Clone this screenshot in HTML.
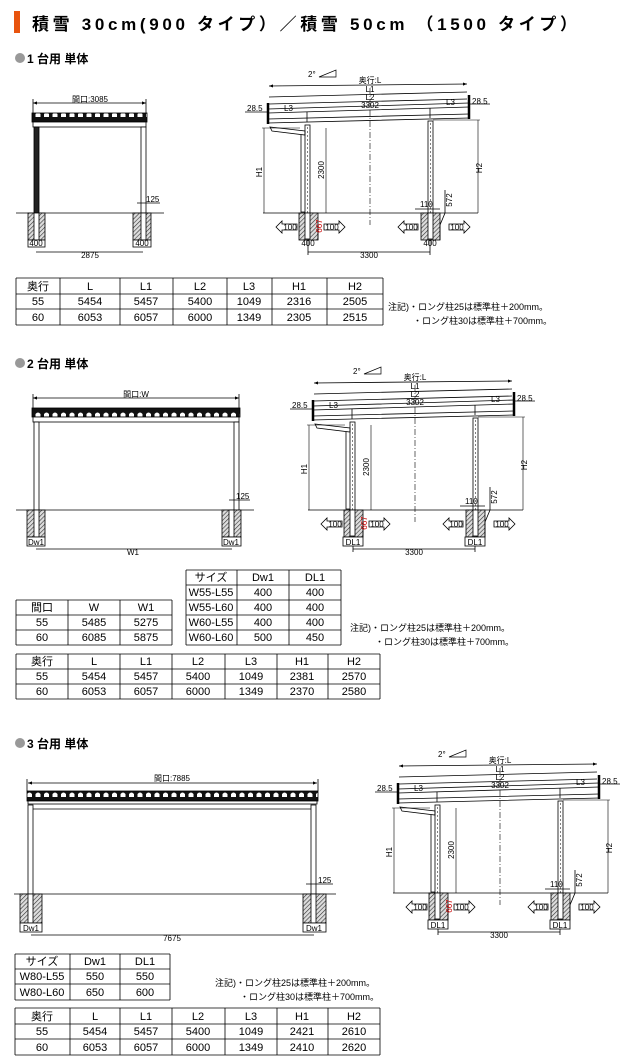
<!DOCTYPE html>
<html><head><meta charset="utf-8"><style>
html,body{margin:0;padding:0;background:#fff}
svg{display:block;font-family:"Liberation Sans","Noto Sans CJK JP",sans-serif}
.t{font-size:11px;text-anchor:middle}
.s{font-size:8px}
.m{text-anchor:middle}
</style></head><body>
<svg width="630" height="1063" viewBox="0 0 630 1063" xmlns="http://www.w3.org/2000/svg">
<defs>
<pattern id="rf" width="8.5" height="10" patternUnits="userSpaceOnUse">
<rect width="8.5" height="10" fill="#111"/>
<path d="M1.5 7 V4 Q4 1 6.5 4 V7 Z" fill="#fff"/>
</pattern>
<pattern id="ht" width="3" height="3" patternUnits="userSpaceOnUse" patternTransform="rotate(45)">
<rect width="3" height="3" fill="#ddd"/><line x1="0" y1="0" x2="0" y2="3" stroke="#333" stroke-width="1.2"/>
</pattern>
<marker id="a" markerWidth="6" markerHeight="6" refX="5" refY="3" orient="auto-start-reverse"><path d="M0 1 L5 3 L0 5" fill="#000"/></marker>

<g id="side" stroke="#000" fill="none" stroke-width="0.8">
<text x="308" y="77" class="s" stroke="none" fill="#000">2°</text>
<path d="M319 77 L336 70 L336 77 Z" stroke-width="0.7"/>
<text x="370" y="83" class="s m" stroke="none" fill="#000">奥行:L</text>
<line x1="269" y1="86" x2="467" y2="84" marker-start="url(#a)" marker-end="url(#a)"/>
<text x="370" y="92" class="s m" stroke="none" fill="#000">L1</text>
<line x1="269" y1="97" x2="467" y2="92"/>
<text x="370" y="100" class="s m" stroke="none" fill="#000">L2</text>
<line x1="269" y1="104" x2="467" y2="99"/>
<text x="370" y="108" class="s m" stroke="none" fill="#000">3302</text>
<text x="247" y="111" class="s" stroke="none" fill="#000">28.5</text>
<text x="472" y="104" class="s" stroke="none" fill="#000">28.5</text>
<text x="284" y="111" class="s" stroke="none" fill="#000">L3</text>
<text x="446" y="105" class="s" stroke="none" fill="#000">L3</text>
<line x1="245" y1="112" x2="268" y2="112"/>
<line x1="469" y1="104" x2="490" y2="104"/>
<path d="M268 109 L469 103 M268 113 L469 107 M268 119 L469 114 M268 123 L469 118" />
<path d="M268 103 V124 M469 95 V119" stroke-width="2.5"/>
<line x1="307" y1="112" x2="307" y2="122"/>
<line x1="430" y1="108" x2="430" y2="118"/>
<rect x="305" y="125" width="5" height="115" fill="#fff"/>
<rect x="428" y="121" width="5" height="119" fill="#fff"/>
<line x1="307.5" y1="127" x2="307.5" y2="238" stroke-dasharray="2 2" stroke-width="0.5"/>
<line x1="430.5" y1="123" x2="430.5" y2="238" stroke-dasharray="2 2" stroke-width="0.5"/>
<path d="M270 127 L305 131 L305 135 L272 131 Z"/>
<path d="M301 135 V212 H305"/>
<line x1="370" y1="88" x2="370" y2="225" stroke-dasharray="6 2 1 2" stroke-width="0.6"/>
<line x1="263" y1="213" x2="478" y2="213"/>
<line x1="262" y1="128" x2="300" y2="128" stroke-width="0.5"/>
<line x1="264" y1="128" x2="264" y2="213" stroke-width="0.6"/>
<text x="262" y="172" class="s m" stroke="none" fill="#000" transform="rotate(-90 262 172)">H1</text>
<line x1="326" y1="128" x2="326" y2="213" stroke-width="0.6"/>
<text x="324" y="170" class="s m" stroke="none" fill="#000" transform="rotate(-90 324 170)">2300</text>
<line x1="433" y1="120" x2="480" y2="120" stroke-width="0.5"/>
<line x1="478" y1="120" x2="478" y2="213" stroke-width="0.6"/>
<text x="482" y="168" class="s m" stroke="none" fill="#000" transform="rotate(-90 482 168)">H2</text>
<rect x="299" y="213" width="19" height="27" fill="url(#ht)"/>
<rect x="421" y="213" width="19" height="27" fill="url(#ht)"/>
<rect x="305" y="213" width="5" height="26" fill="#fff"/>
<rect x="428" y="213" width="5" height="26" fill="#fff"/>
<line x1="318" y1="225" x2="318" y2="240"/>
<text x="322" y="226" class="s m" stroke="none" fill="#c00" transform="rotate(-90 322 226)">667</text>
<text x="420" y="207" class="s" stroke="none" fill="#000">110</text>
<line x1="415" y1="209" x2="440" y2="209"/>
<text x="452" y="200" class="s m" stroke="none" fill="#000" transform="rotate(-90 452 200)">572</text>
<path d="M445 190 V213 L440 225 V240"/>
<path d="M276 227 L282 221 V224 H297 V230 H282 V233 Z" fill="#fff"/>
<path d="M345 227 L339 221 V224 H324 V230 H339 V233 Z" fill="#fff"/>
<path d="M398 227 L404 221 V224 H418 V230 H404 V233 Z" fill="#fff"/>
<path d="M470 227 L464 221 V224 H449 V230 H464 V233 Z" fill="#fff"/>
<text x="290" y="230" class="s m" stroke="none" fill="#000">100</text>
<text x="332" y="230" class="s m" stroke="none" fill="#000">100</text>
<text x="411" y="230" class="s m" stroke="none" fill="#000">100</text>
<text x="457" y="230" class="s m" stroke="none" fill="#000">100</text>
<line x1="308" y1="252" x2="430" y2="252"/>
<line x1="308" y1="240" x2="308" y2="255"/><line x1="430" y1="240" x2="430" y2="255"/>
<text x="369" y="258" class="s m" stroke="none" fill="#000">3300</text>
</g>
</defs>

<rect x="14" y="11" width="6" height="22" fill="#e8540e"/>
<text x="32" y="30" font-size="17" font-weight="bold" textLength="545" lengthAdjust="spacing">積雪 30cm(900 タイプ）／積雪 50cm （1500 タイプ）</text>

<!-- section 1 -->
<circle cx="20" cy="58" r="5" fill="#999"/>
<text x="27" y="63" font-size="12" font-weight="bold">1 台用 単体</text>
<g stroke="#000" fill="none" stroke-width="0.8">
<line x1="33" y1="103" x2="146" y2="103" marker-start="url(#a)" marker-end="url(#a)"/>
<line x1="33" y1="99" x2="33" y2="113"/><line x1="146" y1="99" x2="146" y2="113"/>
<rect x="32" y="113" width="115" height="9" fill="url(#rf)" stroke="#000"/>
<rect x="33" y="122" width="113" height="5" fill="#fff"/>
<rect x="34" y="127" width="5" height="113" fill="#222"/>
<rect x="141" y="127" width="5" height="113" fill="#fff"/>
<line x1="16" y1="213" x2="164" y2="213"/>
<rect x="28" y="213" width="17" height="27" fill="url(#ht)"/><rect x="133" y="213" width="18" height="27" fill="url(#ht)"/>
<rect x="34" y="213" width="5" height="27" fill="#fff"/><rect x="141" y="213" width="5" height="27" fill="#fff"/>
<rect x="28" y="240" width="17" height="7" fill="#fff"/><rect x="133" y="240" width="18" height="7" fill="#fff"/>
<line x1="137" y1="203" x2="160" y2="203"/>
<line x1="36" y1="252" x2="143" y2="252"/>
</g>
<text x="90" y="102" class="s m">間口:3085</text>
<text x="146" y="202" class="s">125</text>
<text x="36" y="246" class="s m">400</text><text x="142" y="246" class="s m">400</text>
<text x="90" y="258" class="s m">2875</text>
<use href="#side"/>
<text x="308" y="246" class="s m">400</text><text x="430" y="246" class="s m">400</text>

<g stroke="#000" stroke-width="0.8" fill="none">
<path d="M16 278 H383 M16 294 H383 M16 309 H383 M16 325 H383 M16 278 V325 M60 278 V325 M120 278 V325 M173 278 V325 M227 278 V325 M272 278 V325 M327 278 V325 M383 278 V325"/>
</g>
<g class="t">
<text x="38" y="290">奥行</text><text x="90" y="290">L</text><text x="146" y="290">L1</text><text x="200" y="290">L2</text><text x="249" y="290">L3</text><text x="299" y="290">H1</text><text x="355" y="290">H2</text>
<text x="38" y="305">55</text><text x="90" y="305">5454</text><text x="146" y="305">5457</text><text x="200" y="305">5400</text><text x="249" y="305">1049</text><text x="299" y="305">2316</text><text x="355" y="305">2505</text>
<text x="38" y="321">60</text><text x="90" y="321">6053</text><text x="146" y="321">6057</text><text x="200" y="321">6000</text><text x="249" y="321">1349</text><text x="299" y="321">2305</text><text x="355" y="321">2515</text>
</g>
<text x="388" y="310" font-size="9">注記)・ロング柱25は標準柱＋200mm。</text>
<text x="413" y="324" font-size="9">・ロング柱30は標準柱＋700mm。</text>

<!-- section 2 -->
<circle cx="20" cy="363" r="5" fill="#999"/>
<text x="27" y="368" font-size="12" font-weight="bold">2 台用 単体</text>
<g stroke="#000" fill="none" stroke-width="0.8">
<line x1="33" y1="398" x2="239" y2="398" marker-start="url(#a)" marker-end="url(#a)"/>
<line x1="33" y1="394" x2="33" y2="408"/><line x1="239" y1="394" x2="239" y2="408"/>
<rect x="32" y="408" width="208" height="9" fill="url(#rf)" stroke="#000"/>
<rect x="33" y="417" width="206" height="5" fill="#fff"/>
<rect x="34" y="422" width="5" height="115" fill="#fff"/>
<rect x="234" y="422" width="5" height="115" fill="#fff"/>
<line x1="16" y1="510" x2="254" y2="510"/>
<rect x="27" y="510" width="18" height="27" fill="url(#ht)"/><rect x="222" y="510" width="19" height="27" fill="url(#ht)"/>
<rect x="34" y="510" width="5" height="27" fill="#fff"/><rect x="229" y="510" width="5" height="27" fill="#fff"/>
<rect x="27" y="537" width="18" height="9" fill="#fff"/><rect x="222" y="537" width="19" height="9" fill="#fff"/>
<line x1="229" y1="500" x2="250" y2="500"/>
<line x1="36" y1="549" x2="232" y2="549"/>
</g>
<text x="136" y="397" class="s m">間口:W</text>
<text x="236" y="499" class="s">125</text>
<text x="36" y="545" class="s m">Dw1</text><text x="231" y="545" class="s m">Dw1</text>
<text x="133" y="555" class="s m">W1</text>
<use href="#side" transform="translate(45 297)"/>
<rect x="343" y="537" width="20" height="9" fill="#fff" stroke="#000" stroke-width="0.8"/>
<rect x="465" y="537" width="20" height="9" fill="#fff" stroke="#000" stroke-width="0.8"/>
<text x="353" y="545" class="s m">DL1</text><text x="475" y="545" class="s m">DL1</text>

<g stroke="#000" stroke-width="0.8" fill="none">
<path d="M186 570 H341 M186 585 H341 M186 600 H341 M186 615 H341 M186 630 H341 M186 645 H341 M186 570 V645 M237 570 V645 M289 570 V645 M341 570 V645"/>
<path d="M16 600 H172 M16 615 H172 M16 630 H172 M16 645 H172 M16 600 V645 M68 600 V645 M120 600 V645 M172 600 V645"/>
<path d="M16 654 H380 M16 669 H380 M16 684 H380 M16 699 H380 M16 654 V699 M68 654 V699 M120 654 V699 M172 654 V699 M225 654 V699 M277 654 V699 M328 654 V699 M380 654 V699"/>
</g>
<g class="t">
<text x="211" y="581">サイズ</text><text x="263" y="581">Dw1</text><text x="315" y="581">DL1</text>
<text x="211" y="596">W55-L55</text><text x="263" y="596">400</text><text x="315" y="596">400</text>
<text x="211" y="611">W55-L60</text><text x="263" y="611">400</text><text x="315" y="611">400</text>
<text x="211" y="626">W60-L55</text><text x="263" y="626">400</text><text x="315" y="626">400</text>
<text x="211" y="641">W60-L60</text><text x="263" y="641">500</text><text x="315" y="641">450</text>
<text x="42" y="611">間口</text><text x="94" y="611">W</text><text x="146" y="611">W1</text>
<text x="42" y="626">55</text><text x="94" y="626">5485</text><text x="146" y="626">5275</text>
<text x="42" y="641">60</text><text x="94" y="641">6085</text><text x="146" y="641">5875</text>
<text x="42" y="665">奥行</text><text x="94" y="665">L</text><text x="146" y="665">L1</text><text x="198" y="665">L2</text><text x="251" y="665">L3</text><text x="302" y="665">H1</text><text x="354" y="665">H2</text>
<text x="42" y="680">55</text><text x="94" y="680">5454</text><text x="146" y="680">5457</text><text x="198" y="680">5400</text><text x="251" y="680">1049</text><text x="302" y="680">2381</text><text x="354" y="680">2570</text>
<text x="42" y="695">60</text><text x="94" y="695">6053</text><text x="146" y="695">6057</text><text x="198" y="695">6000</text><text x="251" y="695">1349</text><text x="302" y="695">2370</text><text x="354" y="695">2580</text>
</g>
<text x="350" y="631" font-size="9">注記)・ロング柱25は標準柱＋200mm。</text>
<text x="375" y="645" font-size="9">・ロング柱30は標準柱＋700mm。</text>

<!-- section 3 -->
<circle cx="20" cy="743" r="5" fill="#999"/>
<text x="27" y="748" font-size="12" font-weight="bold">3 台用 単体</text>
<g stroke="#000" fill="none" stroke-width="0.8">
<line x1="28" y1="783" x2="317" y2="783" marker-start="url(#a)" marker-end="url(#a)"/>
<line x1="27" y1="779" x2="27" y2="791"/><line x1="318" y1="779" x2="318" y2="791"/>
<rect x="27" y="791" width="291" height="10" fill="url(#rf)" stroke="#000"/>
<rect x="28" y="801" width="289" height="3" fill="#fff"/>
<line x1="33" y1="809" x2="312" y2="809"/>
<rect x="28" y="805" width="5" height="118" fill="#fff"/>
<rect x="311" y="805" width="5" height="118" fill="#fff"/>
<line x1="14" y1="894" x2="336" y2="894"/>
<rect x="20" y="894" width="22" height="29" fill="url(#ht)"/><rect x="303" y="894" width="23" height="29" fill="url(#ht)"/>
<rect x="28" y="894" width="5" height="29" fill="#fff"/><rect x="311" y="894" width="5" height="29" fill="#fff"/>
<rect x="20" y="923" width="22" height="9" fill="#fff"/><rect x="303" y="923" width="23" height="9" fill="#fff"/>
<line x1="306" y1="884" x2="333" y2="884"/>
<line x1="31" y1="935" x2="314" y2="935"/>
</g>
<text x="172" y="781" class="s m">間口:7885</text>
<text x="318" y="883" class="s">125</text>
<text x="31" y="931" class="s m">Dw1</text><text x="314" y="931" class="s m">Dw1</text>
<text x="172" y="941" class="s m">7675</text>
<use href="#side" transform="translate(130 680)"/>
<rect x="428" y="920" width="20" height="9" fill="#fff" stroke="#000" stroke-width="0.8"/>
<rect x="550" y="920" width="20" height="9" fill="#fff" stroke="#000" stroke-width="0.8"/>
<text x="438" y="928" class="s m">DL1</text><text x="560" y="928" class="s m">DL1</text>

<g stroke="#000" stroke-width="0.8" fill="none">
<path d="M15 954 H170 M15 969 H170 M15 984 H170 M15 1000 H170 M15 954 V1000 M70 954 V1000 M120 954 V1000 M170 954 V1000"/>
<path d="M15 1008 H380 M15 1024 H380 M15 1039 H380 M15 1055 H380 M15 1008 V1055 M70 1008 V1055 M120 1008 V1055 M172 1008 V1055 M225 1008 V1055 M277 1008 V1055 M328 1008 V1055 M380 1008 V1055"/>
</g>
<g class="t">
<text x="42" y="965">サイズ</text><text x="95" y="965">Dw1</text><text x="145" y="965">DL1</text>
<text x="42" y="980">W80-L55</text><text x="95" y="980">550</text><text x="145" y="980">550</text>
<text x="42" y="996">W80-L60</text><text x="95" y="996">650</text><text x="145" y="996">600</text>
<text x="42" y="1020">奥行</text><text x="95" y="1020">L</text><text x="146" y="1020">L1</text><text x="198" y="1020">L2</text><text x="251" y="1020">L3</text><text x="302" y="1020">H1</text><text x="354" y="1020">H2</text>
<text x="42" y="1035">55</text><text x="95" y="1035">5454</text><text x="146" y="1035">5457</text><text x="198" y="1035">5400</text><text x="251" y="1035">1049</text><text x="302" y="1035">2421</text><text x="354" y="1035">2610</text>
<text x="42" y="1051">60</text><text x="95" y="1051">6053</text><text x="146" y="1051">6057</text><text x="198" y="1051">6000</text><text x="251" y="1051">1349</text><text x="302" y="1051">2410</text><text x="354" y="1051">2620</text>
</g>
<text x="215" y="986" font-size="9">注記)・ロング柱25は標準柱＋200mm。</text>
<text x="240" y="1000" font-size="9">・ロング柱30は標準柱＋700mm。</text>
</svg>
</body></html>
